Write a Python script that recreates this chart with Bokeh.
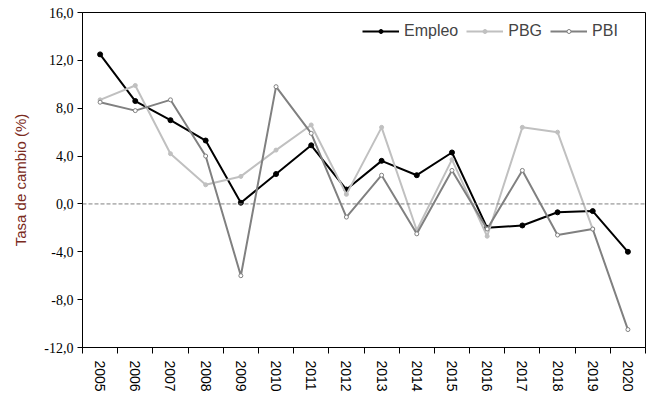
from bokeh.plotting import figure
from bokeh.models import (Range1d, FixedTicker, CustomJSTickFormatter, Span, Legend, LegendItem)
from bokeh.embed import file_html
from bokeh.resources import INLINE
import math

years = [2005, 2006, 2007, 2008, 2009, 2010, 2011, 2012, 2013, 2014, 2015, 2016, 2017, 2018, 2019, 2020]
empleo = [12.5, 8.6, 7.0, 5.3, 0.1, 2.5, 4.9, 1.2, 3.6, 2.4, 4.3, -2.0, -1.8, -0.7, -0.6, -4.0]
pbg = [8.7, 9.9, 4.2, 1.6, 2.3, 4.5, 6.6, 0.8, 6.4, -2.2, 3.7, -2.7, 6.4, 6.0, -2.1, float('nan')]
pbi = [8.5, 7.8, 8.7, 4.0, -6.0, 9.8, 5.9, -1.1, 2.4, -2.5, 2.8, -2.1, 2.8, -2.6, -2.1, -10.5]
y_ticks = [-12, -8, -4, 0, 4, 8, 12, 16]

p = figure(width=647, height=403, output_backend="svg", toolbar_location=None,
           x_range=Range1d(2004.5, 2020.5), y_range=Range1d(-12, 16),
           min_border_left=82, min_border_right=2, min_border_top=12, min_border_bottom=56)
p.background_fill_color = "white"
p.border_fill_color = "white"
p.outline_line_color = "black"
p.outline_line_width = 1
p.xgrid.visible = False
p.ygrid.visible = False

# y axis
p.yaxis.ticker = FixedTicker(ticks=y_ticks)
p.yaxis.formatter = CustomJSTickFormatter(code="return tick.toFixed(1).replace('.', ',');")
p.yaxis.major_tick_in = 0
p.yaxis.major_tick_out = 5
p.yaxis.minor_tick_line_color = None
p.yaxis.axis_line_color = "black"
p.yaxis.major_tick_line_color = "black"
p.yaxis.major_label_text_font = "Liberation Serif"
p.yaxis.major_label_text_font_size = "14px"
p.yaxis.major_label_text_color = "black"
p.yaxis.major_label_standoff = 4
p.yaxis.axis_label = "Tasa de cambio (%)"
p.yaxis.axis_label_text_font = "Liberation Sans"
p.yaxis.axis_label_text_font_style = "normal"
p.yaxis.axis_label_text_font_size = "15px"
p.yaxis.axis_label_text_color = "#7a2a20"
p.yaxis.axis_label_standoff = 12

# x axis
minor = [y - 0.5 for y in years] + [years[-1] + 0.5]
p.xaxis.ticker = FixedTicker(ticks=years, minor_ticks=minor)
p.xaxis.major_tick_in = 0
p.xaxis.major_tick_out = 0
p.xaxis.minor_tick_in = 0
p.xaxis.minor_tick_out = 6
p.xaxis.minor_tick_line_color = "black"
p.xaxis.axis_line_color = "black"
p.xaxis.major_label_orientation = -math.pi / 2
p.xaxis.major_label_text_font = "Liberation Sans"
p.xaxis.major_label_text_font_size = "14px"
p.xaxis.major_label_text_color = "black"
p.xaxis.major_label_standoff = 7

zero = Span(location=0, dimension="width", line_color="#808080", line_width=1, line_dash="4 2")
p.add_layout(zero)

l1 = p.line(years, empleo, line_color="black", line_width=2)
s1 = p.scatter(years, empleo, marker="circle", size=5, fill_color="black", line_color="black")
l2 = p.line(years, pbg, line_color="#c0c0c0", line_width=2)
s2 = p.scatter(years, pbg, marker="circle", size=4, fill_color="#c0c0c0", line_color="#c0c0c0")
l3 = p.line(years, pbi, line_color="#808080", line_width=2)
s3 = p.scatter(years, pbi, marker="circle", size=4, fill_color="white", line_color="#808080")

legend = Legend(items=[LegendItem(label="Empleo", renderers=[l1, s1]),
                       LegendItem(label="PBG", renderers=[l2, s2]),
                       LegendItem(label="PBI", renderers=[l3, s3])],
                orientation="horizontal", location=(280, 307),
                border_line_color=None, background_fill_alpha=0,
                label_text_font="Liberation Sans", label_text_font_size="16px",
                glyph_width=37, glyph_height=10, spacing=8, label_standoff=5,
                margin=0, padding=0)
p.add_layout(legend)

open("out.html", "w").write(file_html(p, INLINE))
